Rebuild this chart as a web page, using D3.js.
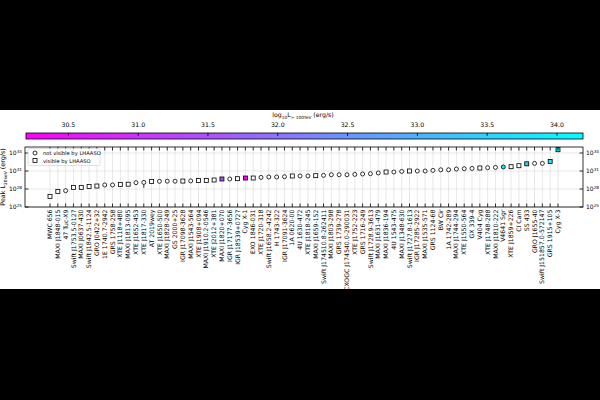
<!DOCTYPE html>
<html>
<head>
<meta charset="utf-8">
<script src="https://cdn.jsdelivr.net/npm/d3@7"></script>
<style>
  html, body { margin: 0; padding: 0; background: #000; }
  svg { display: block; font-family: "DejaVu Sans", sans-serif; }
</style>
</head>
<body>
<div id="chart"></div>
<script>
// Sources, sorted by peak luminosity
const sources = [
  'MWC 656', 'MAXI J1848-015', '47 Tuc-X9', 'Swift J1753.5-0127', 'MAXI J0637-430',
  'Swift J1842.5-1124', 'GRO J0422+32', '1E 1740.7-2942', 'GRS 1758-258', 'XTE J1118+480',
  'MAXI J1813-095', 'XTE J1652-453', 'XTE J1817-330', 'AT 2019wey', 'XTE J1650-500',
  'MAXI J1828-249', 'GS 2000+25', 'IGR J17098-3628', 'MAXI J1543-564', 'XTE J1908+094',
  'MAXI J1910.2-0546', 'XTE J2012+381', 'MAXI J1820+070', 'IGR J17177-3656', 'IGR J18539+0727',
  'Cyg X-1', 'EXO 1846-031', 'XTE J1720-318', 'Swift J1658.2-4242', 'H 1743-322',
  'IGR J17091-3624', '1A 0620-00', '4U 1630-472', 'XTE J1818-245', 'MAXI J1659-152',
  'Swift J174510.8-262411', 'MAXI J1803-298', 'GRS 1739-278', 'CXOGC J174540.0-290031', 'XTE J1752-223',
  'GRS 1716-249', 'Swift J1728.9-3613', 'MAXI J1631-479', 'MAXI J1836-194', '4U 1543-475',
  'MAXI J1348-630', 'Swift J1727.8-1613', 'IGR J17285-2922', 'MAXI J1535-571', 'GRS 1124-68',
  'BW Cir', '1A 1742-289', 'MAXI J1744-294', 'XTE J1550-564', 'GX 339-4',
  'V404 Cyg', 'XTE J1748-288', 'MAXI J1810-222', 'V4641 Sgr', 'XTE J1859+226',
  'CI Cam', 'SS 433', 'GRO J1655-40', 'Swift J151857.0-572147', 'GRS 1915+105',
  'Cyg X-3'
];

// log10 of peak luminosity (erg/s)
const logPeak = [
  26.77, 27.60, 27.72, 28.27, 28.27, 28.43, 28.50, 28.67, 28.67, 28.77,
  28.80, 29.05, 29.10, 29.27, 29.28, 29.30, 29.30, 29.32, 29.35, 29.43,
  29.43, 29.50, 29.67, 29.67, 29.72, 29.83, 29.83, 29.93, 30.00, 30.00,
  30.05, 30.17, 30.17, 30.17, 30.22, 30.27, 30.38, 30.38, 30.38, 30.43,
  30.50, 30.55, 30.67, 30.83, 30.83, 30.93, 31.00, 31.00, 31.00, 31.10,
  31.20, 31.20, 31.33, 31.38, 31.43, 31.50, 31.55, 31.60, 31.67, 31.72,
  31.88, 32.20, 32.27, 32.27, 32.60, 34.55
];

// 1 = visible by LHAASO (square), 0 = not visible (circle)
const visible = [
  1, 1, 0, 1, 1, 1, 1, 0, 0, 1,
  1, 0, 0, 1, 0, 0, 0, 1, 0, 1,
  1, 1, 1, 0, 1, 1, 1, 0, 0, 0,
  0, 1, 0, 0, 1, 0, 0, 0, 0, 0,
  0, 0, 0, 1, 0, 0, 1, 0, 0, 0,
  0, 0, 0, 0, 0, 1, 0, 0, 0, 1,
  1, 1, 0, 0, 1, 1
];

// log10 L(>100 TeV) for the LHAASO-detected sources
const tevLum = { 'MAXI J1820+070': 31.4, 'Cyg X-1': 30.2, 'V4641 Sgr': 33.8, 'SS 433': 33.3, 'GRS 1915+105': 33.9, 'Cyg X-3': 34.19 };

// error bar (log10 low, high)
const errBars = { 'XTE J1817-330': [28.2, 29.45] };

const yTickExp = [25, 28, 31, 34];
const cbTicks = [30.5, 31.0, 31.5, 32.0, 32.5, 33.0, 33.5, 34.0];
const cbRange = [30.2, 34.19];

const W = 600, H = 400;
const AX = { left: 25, right: 583, top: 147, bottom: 207 };
const CB = { left: 26, right: 583, top: 133, bottom: 139 };

const svg = d3.select('#chart').append('svg').attr('width', W).attr('height', H);

// black bands, white figure area
svg.append('rect').attr('width', W).attr('height', H).attr('fill', '#000');
svg.append('rect').attr('x', 0).attr('y', 110).attr('width', W).attr('height', 179).attr('fill', '#fff');

const x = d3.scaleLinear().domain([-3.2, sources.length - 1 + 3.2]).range([AX.left, AX.right]);
const y = d3.scaleLog().domain([1e25, 1e35]).range([AX.bottom, AX.top]);
const color = d3.scaleSequential(d3.interpolateRgb('#ff00ff', '#00ffff')).domain(cbRange);

// ─── colorbar ─────────────────────────────────────────────
const grad = svg.append('defs').append('linearGradient').attr('id', 'cbgrad');
d3.range(0, 1.0001, 0.1).forEach(t => {
  grad.append('stop').attr('offset', t).attr('stop-color', color(cbRange[0] + t * (cbRange[1] - cbRange[0])));
});
const cbx = d3.scaleLinear().domain(cbRange).range([CB.left, CB.right]);
svg.append('rect')
  .attr('x', CB.left).attr('y', CB.top)
  .attr('width', CB.right - CB.left).attr('height', CB.bottom - CB.top)
  .attr('fill', 'url(#cbgrad)').attr('stroke', '#000').attr('stroke-width', 0.8);

const cbAxis = svg.append('g').attr('transform', `translate(0,${CB.top})`)
  .call(d3.axisTop(cbx).tickValues(cbTicks).tickFormat(d3.format('.1f')).tickSizeInner(-3).tickSizeOuter(0).tickPadding(6));
cbAxis.select('.domain').remove();
cbAxis.selectAll('line').attr('stroke', '#000').attr('stroke-width', 0.8);
cbAxis.selectAll('text').attr('font-size', 6.2).attr('fill', '#000').attr('font-family', 'DejaVu Sans');

const cbLabel = svg.append('text').attr('x', 303).attr('y', 117).attr('text-anchor', 'middle')
  .attr('font-size', 6.2).attr('fill', '#000');
cbLabel.append('tspan').text('log');
cbLabel.append('tspan').attr('font-size', 4.3).attr('dy', 1.5).text('10');
cbLabel.append('tspan').attr('dy', -1.5).text('L');
cbLabel.append('tspan').attr('font-size', 4.3).attr('dy', 1.5).text('> 100TeV');
cbLabel.append('tspan').attr('dy', -1.5).text(' (erg/s)');

// ─── main axes ────────────────────────────────────────────
const g = svg.append('g');

// grid
g.selectAll('.vgrid').data(sources).join('line')
  .attr('x1', (d, i) => x(i)).attr('x2', (d, i) => x(i))
  .attr('y1', AX.top).attr('y2', AX.bottom)
  .attr('stroke', '#d9d9d9').attr('stroke-width', 0.6);
g.selectAll('.hgrid').data(yTickExp).join('line')
  .attr('x1', AX.left).attr('x2', AX.right)
  .attr('y1', d => y(Math.pow(10, d))).attr('y2', d => y(Math.pow(10, d)))
  .attr('stroke', '#d9d9d9').attr('stroke-width', 0.6);

// error bars
Object.entries(errBars).forEach(([name, [lo, hi]]) => {
  const i = sources.indexOf(name);
  g.append('line')
    .attr('x1', x(i)).attr('x2', x(i))
    .attr('y1', y(Math.pow(10, lo))).attr('y2', y(Math.pow(10, hi)))
    .attr('stroke', '#000').attr('stroke-width', 0.8);
});

// markers
const pts = sources.map((name, i) => ({ name, i, v: logPeak[i], vis: visible[i], tev: tevLum[name] }));
const fillOf = d => d.tev != null ? color(d.tev) : '#fff';

g.selectAll('.sq').data(pts.filter(d => d.vis)).join('rect')
  .attr('x', d => x(d.i) - 2).attr('y', d => y(Math.pow(10, d.v)) - 2)
  .attr('width', 4).attr('height', 4)
  .attr('fill', fillOf).attr('stroke', '#000').attr('stroke-width', 0.8);
g.selectAll('.ci').data(pts.filter(d => !d.vis)).join('circle')
  .attr('cx', d => x(d.i)).attr('cy', d => y(Math.pow(10, d.v)))
  .attr('r', 2)
  .attr('fill', fillOf).attr('stroke', '#000').attr('stroke-width', 0.8);

// ticks (inward)
g.selectAll('.tt').data(sources).join('line')
  .attr('x1', (d, i) => x(i)).attr('x2', (d, i) => x(i))
  .attr('y1', AX.top).attr('y2', AX.top + 3.5)
  .attr('stroke', '#000').attr('stroke-width', 0.8);
g.selectAll('.bt').data(sources).join('line')
  .attr('x1', (d, i) => x(i)).attr('x2', (d, i) => x(i))
  .attr('y1', AX.bottom).attr('y2', AX.bottom - 3.5)
  .attr('stroke', '#000').attr('stroke-width', 0.8);
[AX.left, AX.right].forEach(px => {
  const dir = px === AX.left ? 1 : -1;
  g.selectAll(null).data(yTickExp).join('line')
    .attr('x1', px).attr('x2', px + dir * 3.5)
    .attr('y1', d => y(Math.pow(10, d))).attr('y2', d => y(Math.pow(10, d)))
    .attr('stroke', '#000').attr('stroke-width', 0.8);
});

// frame
g.append('rect')
  .attr('x', AX.left).attr('y', AX.top)
  .attr('width', AX.right - AX.left).attr('height', AX.bottom - AX.top)
  .attr('fill', 'none').attr('stroke', '#000').attr('stroke-width', 0.8);

// y tick labels (both sides)
[[AX.left - 3, 'end'], [AX.right + 3, 'start']].forEach(([px, anchor]) => {
  const t = g.selectAll(null).data(yTickExp).join('text')
    .attr('x', px).attr('y', d => y(Math.pow(10, d)) + 2.2)
    .attr('text-anchor', anchor).attr('font-size', 6).attr('fill', '#000');
  t.append('tspan').text('10');
  t.append('tspan').attr('font-size', 4.2).attr('dy', -2.6).text(d => d);
});

// x tick labels
g.selectAll('.xl').data(sources).join('text')
  .attr('transform', (d, i) => `translate(${x(i) + 2.1},${AX.bottom + 2.5}) rotate(-90)`)
  .attr('text-anchor', 'end').attr('font-size', 6.2).attr('fill', '#000')
  .text(d => d);

// y label
const yl = svg.append('text')
  .attr('transform', `translate(5,${(AX.top + AX.bottom) / 2}) rotate(-90)`)
  .attr('text-anchor', 'middle').attr('font-size', 6.4).attr('fill', '#000');
yl.append('tspan').text('Peak L');
yl.append('tspan').attr('font-size', 4.4).attr('dy', 1.6).text('20keV');
yl.append('tspan').attr('dy', -1.6).text(' (erg/s)');

// legend
const lg = svg.append('g');
lg.append('rect').attr('x', 28).attr('y', 148.5).attr('width', 72).attr('height', 17).attr('rx', 1.5)
  .attr('fill', '#fff').attr('fill-opacity', 0.85).attr('stroke', '#ccc').attr('stroke-width', 0.6);
lg.append('circle').attr('cx', 35).attr('cy', 153).attr('r', 2)
  .attr('fill', '#fff').attr('stroke', '#000').attr('stroke-width', 0.8);
lg.append('rect').attr('x', 33).attr('y', 158.5).attr('width', 4).attr('height', 4)
  .attr('fill', '#fff').attr('stroke', '#000').attr('stroke-width', 0.8);
lg.append('text').attr('x', 43).attr('y', 155).attr('font-size', 5.2).attr('fill', '#000').text('not visible by LHAASO');
lg.append('text').attr('x', 43).attr('y', 162.5).attr('font-size', 5.2).attr('fill', '#000').text('visible by LHAASO');
</script>
</body>
</html>
